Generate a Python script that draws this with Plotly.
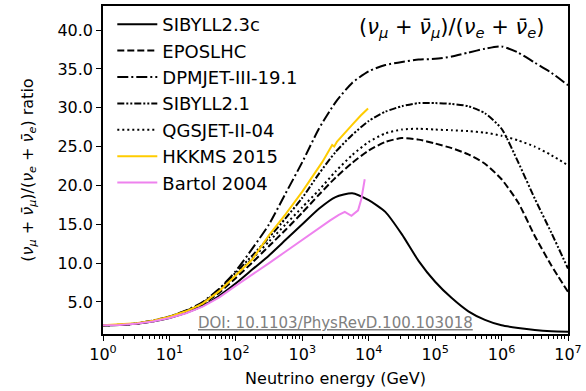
import plotly.graph_objects as go

# ---------------- data ----------------
log_e_full = [0, 0.25, 0.5, 0.75, 1.0, 1.25, 1.5, 1.75, 2.0, 2.25, 2.5, 2.75, 3.0,
              3.25, 3.5, 3.75, 4.0, 4.25, 4.5, 4.75, 5.0, 5.25, 5.5, 5.75, 6.0,
              6.25, 6.5, 6.75, 7.0]

sibyll23c = [2.0, 2.05, 2.2, 2.5, 2.95, 3.6, 4.5, 5.8, 7.4, 9.2, 11.0, 13.0, 15.0,
             17.0, 18.5, 19.0, 18.1, 16.6, 13.7, 10.3, 7.6, 5.5, 3.8, 2.7, 2.0,
             1.65, 1.4, 1.25, 1.18]
eposlhc = [2.0, 2.05, 2.2, 2.52, 3.0, 3.72, 4.7, 6.2, 8.1, 10.1, 12.2, 14.3, 16.5,
           18.8, 21.0, 22.9, 24.5, 25.6, 26.1, 25.9, 25.4, 24.8, 24.0, 22.8, 20.8,
           17.8, 13.5, 9.7, 6.3]
dpmjet = [2.0, 2.07, 2.25, 2.6, 3.15, 3.9, 5.0, 6.7, 9.0, 11.9, 15.0, 19.0, 23.0,
          27.3, 30.7, 33.2, 34.7, 35.5, 35.9, 36.2, 36.3, 36.6, 37.1, 37.6, 37.9,
          37.1, 35.8, 34.5, 32.9]
sibyll21 = [2.0, 2.07, 2.23, 2.57, 3.1, 3.85, 4.9, 6.6, 8.8, 11.0, 13.3, 15.8, 18.4,
            21.5, 24.3, 26.5, 28.3, 29.5, 30.2, 30.6, 30.6, 30.5, 30.2, 29.3, 27.3,
            23.0, 18.3, 13.9, 9.3]
qgsjet = [2.0, 2.06, 2.22, 2.55, 3.05, 3.8, 4.8, 6.4, 8.5, 10.6, 12.8, 15.0, 17.2,
          19.4, 21.8, 23.9, 25.6, 26.7, 27.2, 27.3, 27.2, 27.1, 27.0, 26.8, 26.4,
          25.8, 25.0, 23.9, 22.6]

log_e_hkkms = [0, 0.25, 0.5, 0.75, 1.0, 1.25, 1.5, 1.75, 2.0, 2.25, 2.5, 2.75, 3.0,
               3.15, 3.3, 3.45, 3.48, 3.52, 3.62, 3.75, 3.88, 3.99]
hkkms2015 = [2.0, 2.08, 2.25, 2.6, 3.1, 3.8, 4.8, 6.4, 8.4, 10.5, 13.6, 16.3, 19.2,
             21.1, 23.0, 25.2, 25.0, 25.6, 26.6, 27.8, 29.0, 29.9]

log_e_bartol = [0, 0.25, 0.5, 0.75, 1.0, 1.25, 1.5, 1.75, 2.0, 2.25, 2.5, 2.75, 3.0,
                3.17, 3.3, 3.42, 3.55, 3.64, 3.74, 3.84, 3.89, 3.94]
bartol2004 = [2.0, 2.05, 2.2, 2.5, 2.95, 3.55, 4.4, 5.6, 7.1, 8.5, 10.0, 11.5, 13.0,
              14.05, 14.8, 15.5, 16.2, 16.6, 16.1, 16.8, 18.3, 20.8]

x_tick_exp = [0, 1, 2, 3, 4, 5, 6, 7]
x_tick_text = ["10<sup>%d</sup>" % k for k in x_tick_exp]
y_tick_vals = [5.0, 10.0, 15.0, 20.0, 25.0, 30.0, 35.0, 40.0]

# ---------------- figure ----------------
FONT = "DejaVu Sans"


def energies(logs):
    return [10 ** v for v in logs]


series = [
    ("SIBYLL2.3c", log_e_full, sibyll23c, "black", "solid", "spline"),
    ("EPOSLHC", log_e_full, eposlhc, "black", "7px,3px", "spline"),
    ("DPMJET-III-19.1", log_e_full, dpmjet, "black", "11px,3px,2px,3px", "spline"),
    ("SIBYLL2.1", log_e_full, sibyll21, "black", "7px,2px,2px,2px,2px,2px", "spline"),
    ("QGSJET-II-04", log_e_full, qgsjet, "black", "2px,3px", "spline"),
    ("HKKMS 2015", log_e_hkkms, hkkms2015, "#FFCC00", "solid", "linear"),
    ("Bartol 2004", log_e_bartol, bartol2004, "violet", "solid", "linear"),
]

fig = go.Figure()
for name, lx, ys, col, dash, shape in series:
    fig.add_trace(go.Scatter(
        x=energies(lx), y=ys, mode="lines", name=name, legendgroup=name,
        line=dict(color=col, width=2, dash=dash, shape=shape, smoothing=0.6),
    ))

minor_vals = [m * 10 ** k for k in range(0, 7) for m in range(2, 10)]

fig.update_layout(
    width=586, height=391,
    margin=dict(l=103, r=18, t=6, b=57, autoexpand=False),
    paper_bgcolor="white", plot_bgcolor="white",
    font=dict(family=FONT, size=15, color="black"),
    showlegend=True,
    legend=dict(x=0.02, y=1.0, xanchor="left", yanchor="top",
                bgcolor="rgba(0,0,0,0)", font=dict(size=18, family=FONT),
                itemwidth=40, traceorder="grouped", tracegroupgap=0),
    xaxis=dict(
        type="log", range=[0, 7], automargin=False,
        tickmode="array", tickvals=energies(x_tick_exp), ticktext=x_tick_text,
        ticks="outside", ticklen=5, tickwidth=1, tickcolor="black",
        showline=True, linecolor="black", linewidth=1.5, mirror=True,
        showgrid=False, zeroline=False,
        tickfont=dict(size=16),
        minor=dict(tickmode="array", tickvals=minor_vals, ticks="outside",
                   ticklen=3, tickcolor="black", showgrid=False),
        title=dict(text="Neutrino energy (GeV)", font=dict(size=16), standoff=10),
    ),
    yaxis=dict(
        range=[0.88, 43.1], automargin=False,
        tickmode="array", tickvals=y_tick_vals, tickformat=".1f",
        ticks="outside", ticklen=5, tickwidth=1, tickcolor="black",
        showline=True, linecolor="black", linewidth=1.5, mirror=True,
        showgrid=False, zeroline=False,
        tickfont=dict(size=16),
        title=dict(text="(<i>ν</i><sub><i>μ</i></sub> + <i>ν̄</i><sub><i>μ</i></sub>)/(<i>ν</i><sub><i>e</i></sub> + <i>ν̄</i><sub><i>e</i></sub>) ratio",
                   font=dict(size=16), standoff=20),
    ),
    annotations=[
        dict(text="(<i>ν</i><sub><i>μ</i></sub> + <i>ν̄</i><sub><i>μ</i></sub>)/(<i>ν</i><sub><i>e</i></sub> + <i>ν̄</i><sub><i>e</i></sub>)",
             xref="paper", yref="paper", x=0.955, y=0.98, xanchor="right", yanchor="top",
             showarrow=False, font=dict(size=21, family=FONT, color="black")),
        dict(text="<u>DOI: 10.1103/PhysRevD.100.103018</u>",
             xref="paper", yref="paper", x=0.5, y=0.0, xanchor="center", yanchor="bottom",
             showarrow=False, font=dict(size=15, family=FONT, color="#808080")),
    ],
)

fig.write_html("out.html", config={"displayModeBar": False},
               post_script="document.body.style.margin='0';")
